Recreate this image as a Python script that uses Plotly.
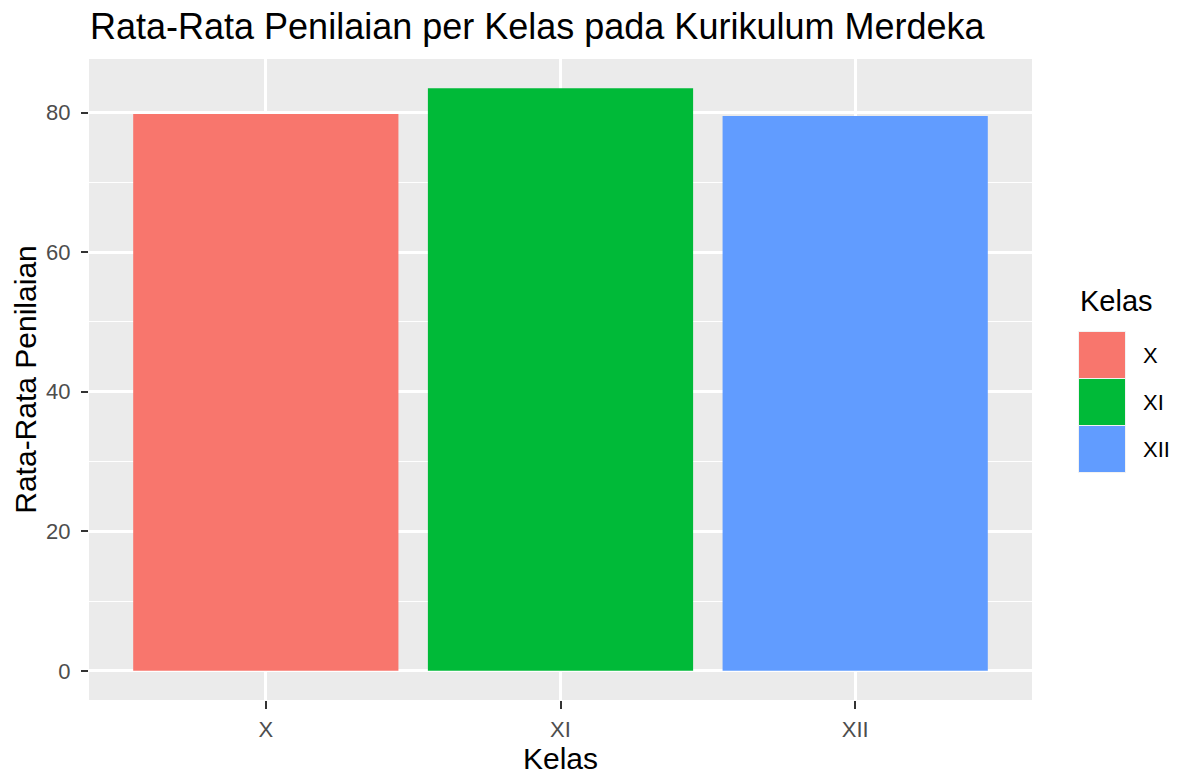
import plotly.graph_objects as go

kelas = ["X", "XI", "XII"]
nilai = [79.8, 83.5, 79.5]
warna = ["#F8766D", "#00BA38", "#619CFF"]
y_ticks = [0, 20, 40, 60, 80]

W, H = 1182, 776
L, R, T, B = 89, 150, 59, 76
FONT = "Liberation Sans, Arial, sans-serif"

fig = go.Figure()
fig.add_trace(go.Bar(
    x=kelas, y=nilai, marker=dict(color=warna, line=dict(width=0)),
    showlegend=False, hoverinfo="x+y",
))

ymax = max(nilai)
pad = 0.05 * ymax

def px2paper_x(x):
    return (x - L) / (W - L - R)

def px2paper_y(y):
    return (H - B - y) / (H - T - B)

shapes = []
annotations = []
# legend (ggplot style)
kx0, kx1 = 1079, 1125
ky0, pitch = 332, 47
shapes.append(dict(type="rect", xref="paper", yref="paper",
                   x0=px2paper_x(kx0 - 1), x1=px2paper_x(kx1 + 1),
                   y0=px2paper_y(ky0 - 1), y1=px2paper_y(ky0 + pitch * len(kelas)),
                   fillcolor="#F2F2F2", line=dict(width=0), layer="above"))
for i, (k, c) in enumerate(zip(kelas, warna)):
    y0 = ky0 + i * pitch
    shapes.append(dict(type="rect", xref="paper", yref="paper",
                       x0=px2paper_x(kx0), x1=px2paper_x(kx1),
                       y0=px2paper_y(y0), y1=px2paper_y(y0 + pitch - 1),
                       fillcolor=c, line=dict(width=0), layer="above"))
    annotations.append(dict(text=k, xref="paper", yref="paper",
                            x=px2paper_x(1141), y=px2paper_y(y0 + pitch / 2),
                            xanchor="left", yanchor="middle", showarrow=False,
                            font=dict(family=FONT, size=22, color="#000000")))
annotations.append(dict(text="Kelas", xref="paper", yref="paper",
                        x=px2paper_x(1078), y=px2paper_y(301),
                        xanchor="left", yanchor="middle", showarrow=False,
                        font=dict(family=FONT, size=29, color="#000000")))

fig.update_layout(
    width=W, height=H,
    margin=dict(l=L, r=R, t=T, b=B, autoexpand=False),
    paper_bgcolor="white",
    plot_bgcolor="#EBEBEB",
    bargap=0.1,
    title=dict(text="Rata-Rata Penilaian per Kelas pada Kurikulum Merdeka",
               xref="container", yref="container",
               x=90 / W, xanchor="left", y=1 - 26 / H, yanchor="middle",
               font=dict(family=FONT, size=36, color="#000000")),
    font=dict(family=FONT),
    shapes=shapes,
    annotations=annotations,
)
fig.update_xaxes(
    type="category", range=[-0.6, len(kelas) - 0.4], automargin=False,
    showgrid=True, gridcolor="white", gridwidth=2.5,
    ticks="outside", ticklen=8, tickwidth=2, tickcolor="#333333",
    tickfont=dict(family=FONT, size=22, color="#4D4D4D"),
    ticklabelstandoff=2,
    title=dict(text="Kelas", font=dict(family=FONT, size=30, color="#000000"), standoff=4),
    zeroline=False, showline=False,
)
fig.update_yaxes(
    range=[-pad, ymax + pad], automargin=False,
    tickmode="array", tickvals=y_ticks,
    showgrid=True, gridcolor="white", gridwidth=2.5,
    minor=dict(dtick=10, tick0=0, showgrid=True, gridcolor="white", gridwidth=1.2),
    ticks="outside", ticklen=7, tickwidth=2, tickcolor="#333333",
    tickfont=dict(family=FONT, size=22, color="#4D4D4D"),
    ticklabelstandoff=6,
    title=dict(text="Rata-Rata Penilaian", font=dict(family=FONT, size=30, color="#000000"), standoff=0),
    zeroline=False, showline=False,
)

fig.write_html("out.html", config={"displayModeBar": False},
               post_script="document.body.style.margin='0';document.body.style.padding='0';")
